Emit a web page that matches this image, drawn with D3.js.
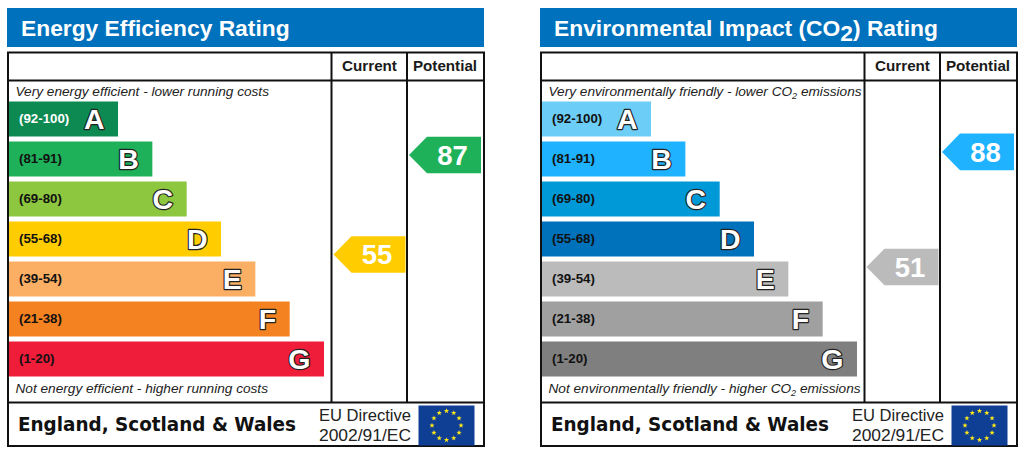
<!DOCTYPE html>
<html><head><meta charset="utf-8">
<script src="https://cdn.jsdelivr.net/npm/d3@7/dist/d3.min.js"></script>
<style>
html,body{margin:0;padding:0;background:#fff}
svg{display:block}
text{font-family:"Liberation Sans",Arial,sans-serif}
</style></head><body>
<svg id="c" width="1024" height="452"></svg>
<script>
const bands = ["A","B","C","D","E","F","G"];
const ranges = ["(92-100)","(81-91)","(69-80)","(55-68)","(39-54)","(21-38)","(1-20)"];
const bandRank = [1,2,3,4,5,6,7];
const energyColors = ["#0d8a52","#1eb159","#8dc63f","#ffcc00","#fbaf64","#f58220","#ef1c3a"];
const envColors = ["#6ccdf7","#1eb2ff","#0099d8","#0072bc","#bbbbbb","#a0a0a0","#7f7f7f"];
const energyScores = {current:55, potential:87};
const envScores = {current:51, potential:88};
const energyCurrentColor = "#ffcc00", energyPotentialColor = "#1eb159";
const envCurrentColor = "#bbbbbb", envPotentialColor = "#1eb2ff";
const colHeads = ["Current","Potential"];
const footerName = "England, Scotland & Wales";
const directive = ["EU Directive","2002/91/EC"];

const svg = d3.select("#c");
const yBand = d3.scaleBand().domain(bands).range([101.5,376.5]).paddingInner(0.125).paddingOuter(0);
const xRank = d3.scaleLinear().domain([0,7]).range([83.7,324]);
const yScore = d3.scaleLinear().domain([0,100]).range([425.6,114.6]);

function star(cx,cy,r){
  const pts=[];
  for(let i=0;i<10;i++){
    const a=-Math.PI/2+i*Math.PI/5, q=i%2?r*0.4:r;
    pts.push([cx+q*Math.cos(a),cy+q*Math.sin(a)]);
  }
  return "M"+pts.map(p=>p.join(",")).join("L")+"Z";
}

// parts: [text, subscript?]; the tspan after a subscript restores the baseline
function sub(sel,parts,subSize,dy){
  let back=0;
  parts.forEach(p=>{
    const t=sel.append("tspan").text(p[0]);
    if(back) t.attr("dy",back);
    back=0;
    if(p[1]){ sel.append("tspan").attr("font-size",subSize).attr("dy",dy).text(p[1]); back=-dy; }
  });
}

function panel(ox,opt){
  const g = svg.append("g").attr("transform",`translate(${ox},0)`);
  g.append("rect").attr("x",7).attr("y",8).attr("width",477).attr("height",39).attr("fill","#0071bc");
  const t = g.append("text").attr("x",21).attr("y",35.5).attr("fill","#fff").attr("font-weight","bold").attr("font-size",22.8);
  sub(t,opt.title,22.8,5);

  const L=8,R=484,T=52.5,H=80.5,B=402.5,F=446, C1=331.5,C2=407;
  const line=(x1,y1,x2,y2)=>g.append("line").attr("x1",x1).attr("y1",y1).attr("x2",x2).attr("y2",y2).attr("stroke","#111").attr("stroke-width",2);
  g.append("rect").attr("x",L).attr("y",T).attr("width",R-L).attr("height",F-T).attr("fill","#fff").attr("stroke","#111").attr("stroke-width",2);
  line(L,H,R,H); line(L,B,R,B); line(C1,T,C1,B); line(C2,T,C2,B);

  g.selectAll("text.head").data(colHeads).join("text").attr("class","head")
    .attr("x",(d,i)=>i?445:369.5).attr("y",71).attr("text-anchor","middle")
    .attr("font-weight","bold").attr("font-size",15.2).attr("fill","#1a1a1a").text(d=>d);

  const top=g.append("text").attr("x",15.5).attr("y",95.5).attr("font-style","italic").attr("font-size",13.65).attr("fill","#222");
  sub(top,opt.top,9,3);
  const bot=g.append("text").attr("x",15.5).attr("y",392.5).attr("font-style","italic").attr("font-size",13.65).attr("fill","#222");
  sub(bot,opt.bottom,9,3);

  const rows=g.selectAll("g.row").data(bands).join("g").attr("class","row");
  rows.append("rect").attr("x",L+1).attr("y",d=>yBand(d)).attr("height",yBand.bandwidth())
    .attr("width",(d,i)=>xRank(bandRank[i])-(L+1)).attr("fill",(d,i)=>opt.colors[i]);
  rows.append("text").attr("x",19).attr("y",d=>yBand(d)+yBand.bandwidth()/2+3.8)
    .attr("font-weight","bold").attr("font-size",13.3)
    .attr("fill",(d,i)=>(i===0&&opt.whiteFirst)?"#fff":"#111").text((d,i)=>ranges[i]);
  rows.append("text").attr("x",(d,i)=>xRank(bandRank[i])-13.5).attr("y",d=>yBand(d)+yBand.bandwidth()/2+9.5)
    .attr("text-anchor","end").attr("font-weight","bold").attr("font-size",28.5)
    .attr("fill","#fff").attr("stroke","#222").attr("stroke-width",2.4).attr("stroke-linejoin","round")
    .attr("paint-order","stroke").text(d=>d);

  const arrow=(x0,score,col)=>{
    const y=yScore(score), h=18.3;
    g.append("path").attr("d",`M${x0},${y}L${x0+18},${y-h}H${x0+72}V${y+h}H${x0+18}Z`).attr("fill",col);
    g.append("text").attr("x",x0+43.5).attr("y",y+9.8).attr("text-anchor","middle").attr("font-weight","bold")
      .attr("font-size",27.5).attr("fill","#fff").text(score);
  };
  arrow(333.5,opt.scores.current,opt.curCol);
  arrow(409,opt.scores.potential,opt.potCol);

  g.append("text").attr("x",18).attr("y",431).attr("font-weight","bold")
    .attr("font-size",19).attr("textLength",278).attr("lengthAdjust","spacingAndGlyphs")
    .attr("fill","#111").style("font-family","'DejaVu Sans'").text(footerName);
  g.selectAll("text.dir").data(directive).join("text").attr("class","dir").attr("x",319).attr("y",(d,i)=>420.5+i*20)
    .attr("font-size",16.8).attr("textLength",92).attr("lengthAdjust","spacingAndGlyphs").attr("fill","#222").text(d=>d);

  g.append("rect").attr("x",418.5).attr("y",405.5).attr("width",56).attr("height",40).attr("fill","#0f3f94");
  d3.range(12).forEach(i=>{
    const a=i*Math.PI/6;
    g.append("path").attr("d",star(446.5+14.5*Math.sin(a),425.5-14.5*Math.cos(a),2.8)).attr("fill","#ffe81a");
  });
}

panel(0,{title:[["Energy Efficiency Rating"]],
  top:[["Very energy efficient - lower running costs"]],
  bottom:[["Not energy efficient - higher running costs"]],
  colors:energyColors,scores:energyScores,curCol:energyCurrentColor,potCol:energyPotentialColor,whiteFirst:true});
panel(533,{title:[["Environmental Impact (CO","2"],[") Rating"]],
  top:[["Very environmentally friendly - lower CO","2"],[" emissions"]],
  bottom:[["Not environmentally friendly - higher CO","2"],[" emissions"]],
  colors:envColors,scores:envScores,curCol:envCurrentColor,potCol:envPotentialColor,whiteFirst:false});
</script>
</body></html>
